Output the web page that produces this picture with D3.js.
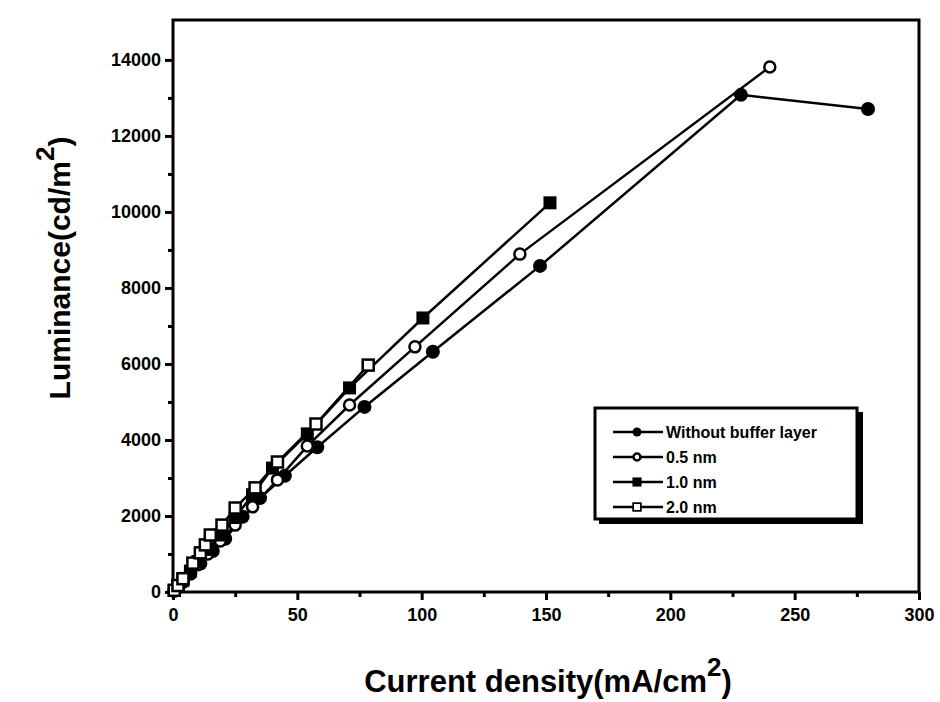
<!DOCTYPE html>
<html>
<head>
<meta charset="utf-8">
<script src="https://cdn.jsdelivr.net/npm/d3@7"></script>
<style>
  body { margin: 0; background: #fff; }
  svg { font-family: "Liberation Sans", Arial, sans-serif; font-weight: bold; }
  .axis path, .axis line { stroke: #000; stroke-width: 3; }
  .axis text { font-size: 18px; font-weight: bold; fill: #000; }
</style>
</head>
<body>
<div id="chart"></div>
<script>
var width = 940,
  height = 702;

var margin = {left: 173, right: 21, top: 20, bottom: 110};

// Series, values (x: mA/cm2, y: cd/m2)
var noBufferX = [0.5, 2, 4, 7, 11, 16, 21, 28, 35, 45, 58, 77, 104.5, 147.6, 228.4, 279.5];
var noBufferY = [30, 120, 260, 480, 750, 1080, 1400, 1980, 2470, 3060, 3810, 4870, 6320, 8580, 13080, 12710];

var nm05X = [0.5, 2, 4, 7, 10, 14, 19, 25, 32, 42, 54, 71, 97.3, 139.5, 240];
var nm05Y = [30, 130, 280, 500, 720, 1000, 1340, 1760, 2240, 2950, 3840, 4920, 6450, 8890, 13815];

var nm10X = [0.5, 2, 4, 7, 10, 14, 19, 25, 32, 40, 54, 71, 100.5, 151.6];
var nm10Y = [40, 150, 310, 550, 800, 1120, 1500, 1960, 2560, 3260, 4160, 5370, 7210, 10240];

var nm20X = [0.5, 2, 4, 8, 11, 13, 15, 19.7, 25, 33, 42, 57.5, 78.5];
var nm20Y = [45, 170, 350, 760, 1030, 1240, 1500, 1760, 2210, 2740, 3420, 4420, 5970];

var seriesNames = ["Without buffer layer", "0.5 nm", "1.0 nm", "2.0 nm"];
var seriesMarks = ["filledCircle", "openCircle", "filledSquare", "openSquare"];

var xTicks = [0, 50, 100, 150, 200, 250, 300];
var xMinor = [25, 75, 125, 175, 225, 275];
var yTicks = [0, 2000, 4000, 6000, 8000, 10000, 12000, 14000];
var yMinor = [1000, 3000, 5000, 7000, 9000, 11000, 13000];

var series = [
  {name: seriesNames[0], mark: seriesMarks[0], x: noBufferX, y: noBufferY},
  {name: seriesNames[1], mark: seriesMarks[1], x: nm05X, y: nm05Y},
  {name: seriesNames[2], mark: seriesMarks[2], x: nm10X, y: nm10Y},
  {name: seriesNames[3], mark: seriesMarks[3], x: nm20X, y: nm20Y}
];

var x = d3.scaleLinear()
  .domain([0, 300])
  .range([margin.left, width - margin.right]);

var y = d3.scaleLinear()
  .domain([0, 15050])
  .range([height - margin.bottom, margin.top]);

var svg = d3.select("#chart").append("svg")
  .attr("width", width)
  .attr("height", height);

// frame
svg.append("rect")
  .attr("x", x(0))
  .attr("y", y(15050))
  .attr("width", x(300) - x(0))
  .attr("height", y(0) - y(15050))
  .attr("fill", "none")
  .attr("stroke", "#000")
  .attr("stroke-width", 3);

svg.append("g")
  .attr("class", "axis")
  .attr("transform", "translate(0," + y(0) + ")")
  .call(d3.axisBottom(x).tickValues(xTicks).tickSize(8).tickSizeOuter(0).tickPadding(8))
  .call(function(g) { g.select(".domain").remove(); });

svg.append("g")
  .attr("class", "axis")
  .attr("transform", "translate(0," + y(0) + ")")
  .call(d3.axisBottom(x).tickValues(xMinor).tickSize(5).tickFormat(""))
  .call(function(g) { g.select(".domain").remove(); });

svg.append("g")
  .attr("class", "axis")
  .attr("transform", "translate(" + x(0) + ",0)")
  .call(d3.axisLeft(y).tickValues(yTicks).tickFormat(d3.format("d")).tickSize(8).tickSizeOuter(0).tickPadding(4))
  .call(function(g) { g.select(".domain").remove(); });

svg.append("g")
  .attr("class", "axis")
  .attr("transform", "translate(" + x(0) + ",0)")
  .call(d3.axisLeft(y).tickValues(yMinor).tickSize(5).tickFormat(""))
  .call(function(g) { g.select(".domain").remove(); });

var line = d3.line()
  .x(function(d) { return x(d[0]); })
  .y(function(d) { return y(d[1]); });

function drawMark(g, mark, cx, cy) {
  if (mark == "filledCircle") {
    g.append("circle").attr("cx", cx).attr("cy", cy).attr("r", 7).attr("fill", "#000");
  } else if (mark == "openCircle") {
    g.append("circle").attr("cx", cx).attr("cy", cy).attr("r", 5.5)
      .attr("fill", "#fff").attr("stroke", "#000").attr("stroke-width", 2.5);
  } else if (mark == "filledSquare") {
    g.append("rect").attr("x", cx - 6.5).attr("y", cy - 6.5).attr("width", 13).attr("height", 13)
      .attr("fill", "#000");
  } else {
    g.append("rect").attr("x", cx - 5.5).attr("y", cy - 5.5).attr("width", 11).attr("height", 11)
      .attr("fill", "#fff").attr("stroke", "#000").attr("stroke-width", 2.5);
  }
}

var plot = svg.append("g");

series.forEach(function(s) {
  var pts = s.x.map(function(v, i) { return [v, s.y[i]]; });
  pts.unshift([0, 0]);
  plot.append("path")
    .datum(pts)
    .attr("fill", "none")
    .attr("stroke", "#000")
    .attr("stroke-width", 2.5)
    .attr("d", line);
});

series.forEach(function(s) {
  var g = plot.append("g");
  s.x.forEach(function(v, i) {
    drawMark(g, s.mark, x(v), y(s.y[i]));
  });
});

// legend
var legend = svg.append("g");
legend.append("rect")
  .attr("x", 599).attr("y", 412).attr("width", 264).attr("height", 112)
  .attr("fill", "#000");
legend.append("rect")
  .attr("x", 595).attr("y", 408).attr("width", 262).attr("height", 111)
  .attr("fill", "#fff").attr("stroke", "#000").attr("stroke-width", 3);

series.forEach(function(s, i) {
  var ly = 432 + i * 25;
  legend.append("line")
    .attr("x1", 613).attr("x2", 663).attr("y1", ly).attr("y2", ly)
    .attr("stroke", "#000").attr("stroke-width", 2.5);
  var g = legend.append("g");
  drawMark(g, s.mark, 637, ly);
  g.select("circle").attr("r", s.mark == "filledCircle" ? 4.5 : 3.5);
  g.select("rect").attr("transform", "translate(637," + ly + ") scale(0.7) translate(-637," + (-ly) + ")");
  legend.append("text")
    .attr("x", 666).attr("y", ly + 6)
    .attr("font-size", 16)
    .attr("font-weight", "bold")
    .text(s.name);
});

// axis titles
var xt = svg.append("text")
  .attr("x", 548).attr("y", 692)
  .attr("text-anchor", "middle")
  .attr("font-size", 31)
  .attr("font-weight", "bold");
xt.append("tspan").text("Current density(mA/cm");
xt.append("tspan").attr("dy", -16).attr("font-size", 26).text("2");
xt.append("tspan").attr("dy", 16).text(")");

var yt = svg.append("text")
  .attr("transform", "translate(70,268) rotate(-90)")
  .attr("text-anchor", "middle")
  .attr("font-size", 30)
  .attr("font-weight", "bold");
yt.append("tspan").text("Luminance(cd/m");
yt.append("tspan").attr("dy", -16).attr("font-size", 26).text("2");
yt.append("tspan").attr("dy", 16).text(")");
</script>
</body>
</html>
